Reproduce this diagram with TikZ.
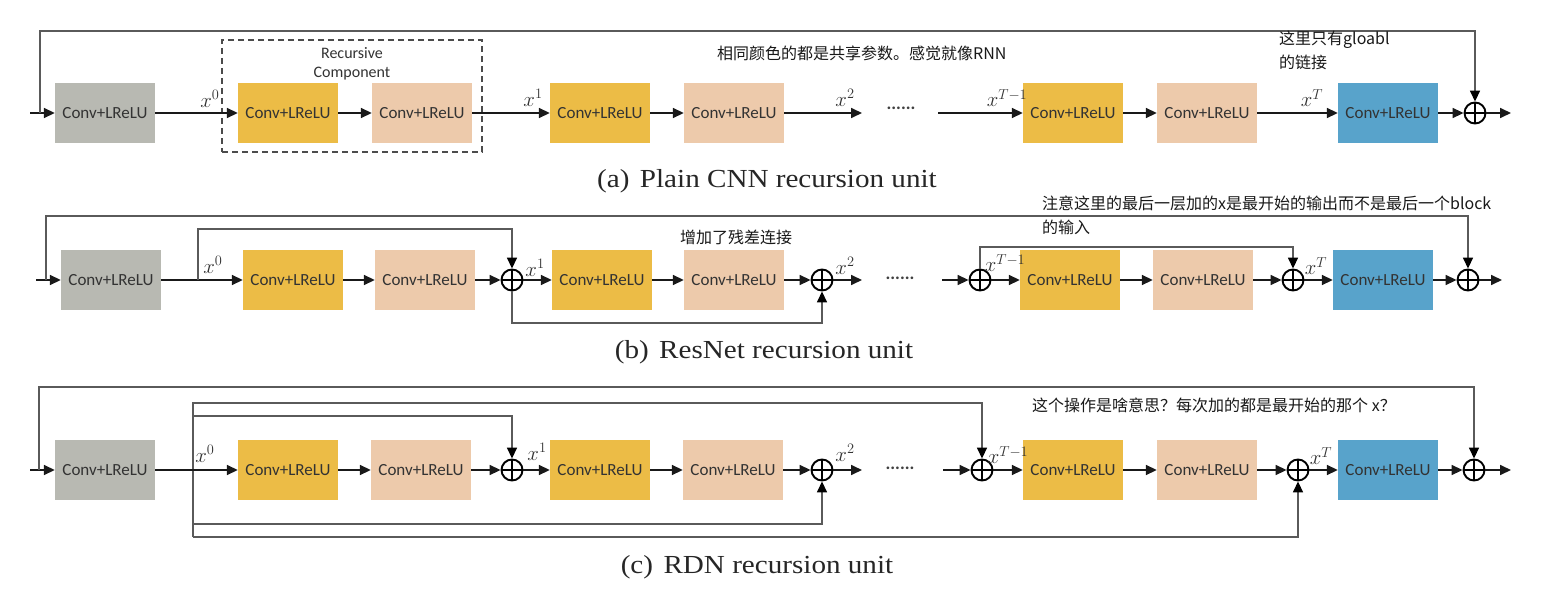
\documentclass[tikz,border=0pt]{standalone}
\usepackage{fontspec}
\setmainfont{Liberation Serif}
\newfontfamily\boxfont{Carlito}
\newfontfamily\cjk{Noto Sans CJK SC}
\newfontfamily\capfont[FakeStretch=1.12]{Liberation Serif}
\usetikzlibrary{arrows.meta}
\definecolor{convgray}{RGB}{184,185,178}
\definecolor{convyellow}{RGB}{236,188,70}
\definecolor{convpeach}{RGB}{237,202,171}
\definecolor{convblue}{RGB}{88,163,203}
\definecolor{wire}{RGB}{90,90,90}

\begin{document}
\begin{tikzpicture}[x=1pt,y=-1pt,
      conv/.style={minimum width=100pt,minimum height=60pt,inner sep=0pt,text=black!80,
        font=\boxfont\fontsize{17}{20}\selectfont},
      gry/.style={conv,fill=convgray},
      ylw/.style={conv,fill=convyellow},
      pch/.style={conv,fill=convpeach},
      blu/.style={conv,fill=convblue},
      sum/.style={circle,draw,line width=1.9pt,minimum size=21pt,inner sep=0pt,
        path picture={\draw[line width=1.9pt] (path picture bounding box.north)--(path picture bounding box.south)
          (path picture bounding box.west)--(path picture bounding box.east);}},
      flow/.style={-{Triangle[length=11pt,width=10pt]},line width=1.7pt,draw=black!90},
      glob/.style={-{Triangle[length=11pt,width=10pt,color=black]},line width=1.6pt,draw=wire},
      xl/.style={font=\fontsize{20}{24}\selectfont,inner sep=0pt,text=black!80},
      dotrow/.style={font=\boxfont\bfseries\fontsize{18}{20}\selectfont,anchor=base,inner sep=0pt,text=black!75},
      note/.style={font=\cjk\fontsize{16}{24}\selectfont,anchor=west,align=left,inner sep=0pt,text=black!90},
      capt/.style={font=\capfont\fontsize{26}{30}\selectfont,inner sep=0pt,text=black!85}]
    \fill[white] (0,0) rectangle (1550,594);
    \useasboundingbox (0,0) rectangle (1550,594);

    % (a) plain CNN
    \node[gry] (ga) at (105,113) {Conv+LReLU};
    \node[ylw] (ya1) at (288,113) {Conv+LReLU};
    \node[pch] (pa1) at (422,113) {Conv+LReLU};
    \node[ylw] (ya2) at (600,113) {Conv+LReLU};
    \node[pch] (pa2) at (734,113) {Conv+LReLU};
    \node[ylw] (ya3) at (1073,113) {Conv+LReLU};
    \node[pch] (pa3) at (1207,113) {Conv+LReLU};
    \node[blu] (bla) at (1388,113) {Conv+LReLU};
    \node[sum] (sa5) at (1475,113) {};
    \node[draw,dash pattern=on 6pt off 4pt,line width=1.1pt,draw=black!70,minimum width=260pt,minimum height=112pt] (rc) at (352,96) {};
    \node[align=center,font=\boxfont\fontsize{16}{19}\selectfont,text=black!80] (rct) at (352,64) {Recursive\\Component};
    \coordinate (ina) at (30,113);
    \coordinate (ja) at (40,113);
    \coordinate (ta) at (40,31);
    \coordinate (ea2) at (862,113);
    \coordinate (ba3) at (938,113);
    \coordinate (oa) at (1511,113);
    \draw[flow] (ina) -- (ga);
    \draw[glob] (ja) -- (ta) -| (sa5);
    \draw[flow] (ga) -- (ya1);
    \draw[flow] (ya1) -- (pa1);
    \draw[flow] (pa1) -- (ya2);
    \draw[flow] (ya2) -- (pa2);
    \draw[flow] (pa2) -- (ea2);
    \draw[flow] (ba3) -- (ya3);
    \draw[flow] (ya3) -- (pa3);
    \draw[flow] (pa3) -- (bla);
    \draw[flow] (bla) -- (sa5);
    \draw[flow] (sa5) -- (oa);
    \node[xl] (xa0) at (210,99) {$x^{0}$};
    \node[xl] (xa1) at (533,98) {$x^{1}$};
    \node[xl] (xa2) at (845,98) {$x^{2}$};
    \node[xl] (xa3) at (1007,98) {$x^{T-1}$};
    \node[xl] (xa4) at (1312,98) {$x^{T}$};
    \node[dotrow] (da) at (901,109) {......};
    \node[note] (na1) at (717,53) {相同颜色的都是共享参数。感觉就像RNN};
    \node[note] (na2) at (1279,50) {这里只有gloabl\\的链接};
    \node[capt] (capa) at (767,181) {(a)\hspace{0.4em}Plain CNN recursion unit};

    % (b) ResNet
    \node[gry] (gb) at (111,280) {Conv+LReLU};
    \node[ylw] (yb1) at (293,280) {Conv+LReLU};
    \node[pch] (pb1) at (425,280) {Conv+LReLU};
    \node[sum] (sb1) at (512,280) {};
    \node[ylw] (yb2) at (602,280) {Conv+LReLU};
    \node[pch] (pb2) at (734,280) {Conv+LReLU};
    \node[sum] (sb2) at (822,280) {};
    \node[sum] (sb3) at (980,280) {};
    \node[ylw] (yb3) at (1070,280) {Conv+LReLU};
    \node[pch] (pb3) at (1203,280) {Conv+LReLU};
    \node[sum] (sb4) at (1293,280) {};
    \node[blu] (blb) at (1383,280) {Conv+LReLU};
    \node[sum] (sb5) at (1468,280) {};
    \coordinate (inb) at (36,280);
    \coordinate (jb) at (46,280);
    \coordinate (tb) at (46,216);
    \coordinate (rb0) at (198,280);
    \coordinate (rb0t) at (198,229);
    \coordinate (rb1) at (512,323);
    \coordinate (eb2) at (862,280);
    \coordinate (bb3) at (942,280);
    \coordinate (rb3) at (980,247);
    \coordinate (ob) at (1502,280);
    \draw[flow] (inb) -- (gb);
    \draw[glob] (jb) -- (tb) -| (sb5);
    \draw[flow] (gb) -- (yb1);
    \draw[glob] (rb0) -- (rb0t) -| (sb1);
    \draw[flow] (yb1) -- (pb1);
    \draw[flow] (pb1) -- (sb1);
    \draw[flow] (sb1) -- (yb2);
    \draw[glob] (sb1) -- (rb1) -| (sb2);
    \draw[flow] (yb2) -- (pb2);
    \draw[flow] (pb2) -- (sb2);
    \draw[flow] (sb2) -- (eb2);
    \draw[flow] (bb3) -- (sb3);
    \draw[flow] (sb3) -- (yb3);
    \draw[glob] (sb3) -- (rb3) -| (sb4);
    \draw[flow] (yb3) -- (pb3);
    \draw[flow] (pb3) -- (sb4);
    \draw[flow] (sb4) -- (blb);
    \draw[flow] (blb) -- (sb5);
    \draw[flow] (sb5) -- (ob);
    \node[xl] (xb0) at (213,265) {$x^{0}$};
    \node[xl] (xb1) at (535,268) {$x^{1}$};
    \node[xl] (xb2) at (845,266) {$x^{2}$};
    \node[xl] (xb3) at (1005,263) {$x^{T-1}$};
    \node[xl] (xb4) at (1316,266) {$x^{T}$};
    \node[dotrow] (db) at (900,279) {......};
    \node[note] (nb1) at (680,237) {增加了残差连接};
    \node[note] (nb2) at (1042,215) {注意这里的最后一层加的x是最开始的输出而不是最后一个block\\的输入};
    \node[capt] (capb) at (764,352) {(b)\hspace{0.4em}ResNet recursion unit};

    % (c) RDN
    \node[gry] (gc) at (105,470) {Conv+LReLU};
    \node[ylw] (yc1) at (288,470) {Conv+LReLU};
    \node[pch] (pc1) at (421,470) {Conv+LReLU};
    \node[sum] (sc1) at (512,470) {};
    \node[ylw] (yc2) at (600,470) {Conv+LReLU};
    \node[pch] (pc2) at (733,470) {Conv+LReLU};
    \node[sum] (sc2) at (822,470) {};
    \node[sum] (sc3) at (982,470) {};
    \node[ylw] (yc3) at (1073,470) {Conv+LReLU};
    \node[pch] (pc3) at (1207,470) {Conv+LReLU};
    \node[sum] (sc4) at (1298,470) {};
    \node[blu] (blc) at (1388,470) {Conv+LReLU};
    \node[sum] (sc5) at (1474,470) {};
    \coordinate (inc) at (30,470);
    \coordinate (jc) at (39,470);
    \coordinate (tc) at (39,387);
    \coordinate (uc) at (193,403);
    \coordinate (uc2) at (193,416);
    \coordinate (dc2) at (193,524);
    \coordinate (dc) at (193,537);
    \coordinate (ec2) at (862,470);
    \coordinate (bc3) at (943,470);
    \coordinate (oc) at (1511,470);
    \draw[flow] (inc) -- (gc);
    \draw[glob] (jc) -- (tc) -| (sc5);
    \draw[glob] (dc) -- (uc) -| (sc3);
    \draw[glob] (uc2) -| (sc1);
    \draw[glob] (dc2) -| (sc2);
    \draw[glob] (dc) -| (sc4);
    \draw[flow] (gc) -- (yc1);
    \draw[flow] (yc1) -- (pc1);
    \draw[flow] (pc1) -- (sc1);
    \draw[flow] (sc1) -- (yc2);
    \draw[flow] (yc2) -- (pc2);
    \draw[flow] (pc2) -- (sc2);
    \draw[flow] (sc2) -- (ec2);
    \draw[flow] (bc3) -- (sc3);
    \draw[flow] (sc3) -- (yc3);
    \draw[flow] (yc3) -- (pc3);
    \draw[flow] (pc3) -- (sc4);
    \draw[flow] (sc4) -- (blc);
    \draw[flow] (blc) -- (sc5);
    \draw[flow] (sc5) -- (oc);
    \node[xl] (xc0) at (205,454) {$x^{0}$};
    \node[xl] (xc1) at (537,452) {$x^{1}$};
    \node[xl] (xc2) at (845,453) {$x^{2}$};
    \node[xl] (xc3) at (1008,455) {$x^{T-1}$};
    \node[xl] (xc4) at (1321,456) {$x^{T}$};
    \node[dotrow] (dc0) at (900,469) {......};
    \node[note] (nc1) at (1032,405) {这个操作是啥意思？每次加的都是最开始的那个 x？};
    \node[capt] (capc) at (757,567) {(c)\hspace{0.4em}RDN recursion unit};
  \end{tikzpicture}
\end{document}
